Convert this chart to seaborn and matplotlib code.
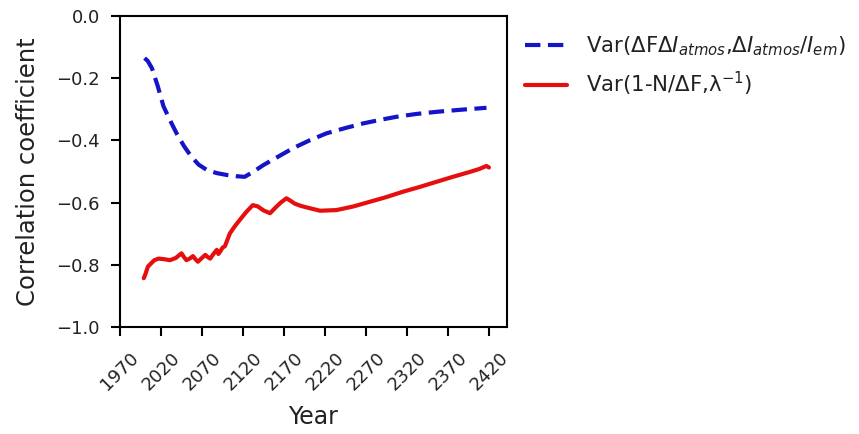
import matplotlib
matplotlib.use("Agg")
import matplotlib.pyplot as plt
import seaborn as sns
import pandas as pd

blue_years = [2000, 2004, 2009, 2016, 2023, 2031, 2039, 2048, 2057, 2066, 2076, 2088, 2100, 2112, 2122,
              2133, 2145, 2163, 2181, 2201, 2222, 2245, 2267, 2287, 2307, 2331, 2356, 2387, 2417]
blue_vals = [-0.135, -0.145, -0.168, -0.225, -0.29, -0.335, -0.377, -0.418, -0.452, -0.478, -0.495, -0.505,
             -0.511, -0.515, -0.517, -0.5, -0.479, -0.452, -0.425, -0.4, -0.377, -0.36, -0.345, -0.334,
             -0.324, -0.315, -0.308, -0.301, -0.295]

red_years = [1999, 2001, 2004, 2008, 2012, 2017, 2024, 2031, 2038, 2045, 2048, 2051, 2055, 2059, 2062,
             2065, 2069, 2074, 2077, 2080, 2084, 2088, 2090, 2092, 2095, 2098, 2104, 2110, 2116, 2124,
             2132, 2138, 2145, 2153, 2160, 2166, 2173, 2178, 2183, 2190, 2200, 2214, 2234, 2255, 2275,
             2295, 2315, 2335, 2356, 2376, 2397, 2408, 2417, 2420]
red_vals = [-0.843, -0.83, -0.806, -0.795, -0.785, -0.78, -0.782, -0.785, -0.778, -0.763, -0.775, -0.785,
            -0.78, -0.772, -0.782, -0.79, -0.78, -0.768, -0.775, -0.78, -0.765, -0.752, -0.765, -0.758,
            -0.745, -0.74, -0.699, -0.676, -0.656, -0.63, -0.608, -0.612, -0.625, -0.634, -0.615, -0.6,
            -0.586, -0.594, -0.603, -0.61, -0.617, -0.626, -0.624, -0.612, -0.597, -0.582, -0.565, -0.55,
            -0.533, -0.517, -0.501, -0.492, -0.482, -0.487]

blue_label = r"Var($\Delta$F$\Delta I_{atmos}$,$\Delta I_{atmos}/I_{em}$)"
red_label = "Var(1-N/\u0394F,\u03bb$^{-1}$)"

df_blue = pd.DataFrame({"Year": blue_years, "val": blue_vals})
df_red = pd.DataFrame({"Year": red_years, "val": red_vals})

sns.set_style("ticks")
plt.rcParams["font.family"] = ["DejaVu Sans"]
plt.rcParams["mathtext.fontset"] = "dejavusans"
text_color = "#222222"

fig = plt.figure(figsize=(8.59, 4.34), dpi=100)
ax = fig.add_axes([0.1397, 0.2465, 0.4505, 0.7165])

sns.lineplot(data=df_blue, x="Year", y="val", ax=ax, color="#1414c8", linewidth=3,
             linestyle=(0, (3.7, 1.8)), label=blue_label)
sns.lineplot(data=df_red, x="Year", y="val", ax=ax, color="#e60f0f", linewidth=3,
             label=red_label)

ax.set_xlim(1970, 2442)
ax.set_ylim(-1.0, 0.0)
ax.set_xticks(list(range(1970, 2421, 50)))
ax.set_yticks([-1.0, -0.8, -0.6, -0.4, -0.2, 0.0])
ax.set_yticklabels(["\u22121.0", "\u22120.8", "\u22120.6", "\u22120.4", "\u22120.2", "0.0"])
for lbl in ax.get_xticklabels():
    lbl.set_rotation(45)
ax.tick_params(axis="both", labelsize=13, length=6.5, width=1.5, colors="black",
               labelcolor=text_color)
ax.tick_params(axis="y", pad=8)
ax.tick_params(axis="x", pad=9)
for s in ax.spines.values():
    s.set_linewidth(1.5)
    s.set_color("black")
ax.set_xlabel("Year", fontsize=17, color=text_color, labelpad=8)
ax.set_ylabel("Correlation coefficient", fontsize=17.5, color=text_color, labelpad=12)

leg = ax.legend(loc="upper left", bbox_to_anchor=(0.996, 1.003), frameon=False, fontsize=15.3,
                handlelength=2.0, handletextpad=0.9, labelspacing=0.55)
for t in leg.get_texts():
    t.set_color(text_color)

fig.savefig("out.png", dpi=100)
